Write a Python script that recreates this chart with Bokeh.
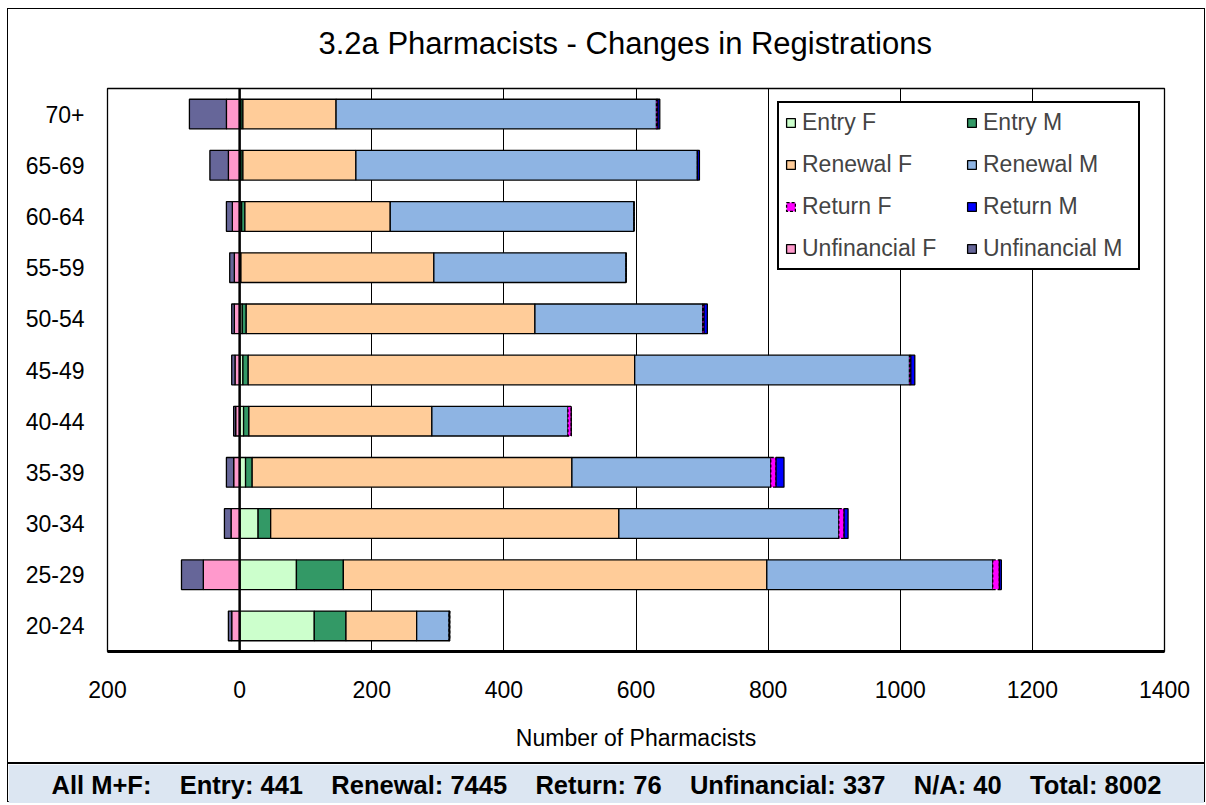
from bokeh.plotting import figure
from bokeh.models import (ColumnDataSource, FactorRange, FixedTicker, CustomJSTickFormatter,
                          Span, Legend, LegendItem, Title)
from bokeh.layouts import column
from bokeh.embed import file_html
from bokeh.resources import INLINE

# ---------------- data ----------------
age_groups = ["70+", "65-69", "60-64", "55-59", "50-54", "45-49",
              "40-44", "35-39", "30-34", "25-29", "20-24"]
entry_f = [2, 2, 3, 1, 4, 5, 6, 9, 28, 86, 113]
entry_m = [3, 3, 5, 1, 6, 8, 8, 10, 19, 71, 48]
renewal_f = [141, 171, 220, 292, 437, 585, 277, 484, 527, 641, 107]
renewal_m = [485, 517, 369, 291, 254, 416, 206, 301, 333, 342, 49]
return_f = [2, 0, 0, 0, 2, 2, 5, 8, 8, 10, 1]
return_m = [3, 3, 0, 0, 5, 6, 0, 12, 6, 3, 0]
unfin_f = [20, 17, 11, 8, 8, 7, 6, 9, 13, 55, 12]
unfin_m = [56, 28, 9, 7, 4, 5, 3, 11, 10, 33, 5]
x_ticks = [-200, 0, 200, 400, 600, 800, 1000, 1200, 1400]
title_text = "3.2a Pharmacists - Changes in Registrations"
x_label = "Number of Pharmacists"
summary_parts = ["All M+F:", "Entry: 441", "Renewal: 7445", "Return: 76",
                 "Unfinancial: 337", "N/A: 40", "Total: 8002"]

FONT = "Liberation Sans"

src = ColumnDataSource(dict(
    age=age_groups,
    entry_f=entry_f, entry_m=entry_m,
    renewal_f=renewal_f, renewal_m=renewal_m,
    return_f=return_f, return_m=return_m,
    unfin_f=[-v for v in unfin_f], unfin_m=[-v for v in unfin_m],
))

W = 1196
p = figure(width=W, height=753,
           y_range=FactorRange(factors=list(reversed(age_groups))),
           x_range=(-200, 1400),
           output_backend="svg", toolbar_location=None,
           min_border_left=99, min_border_right=40,
           min_border_top=79, min_border_bottom=111)
p.title.text = ""
p.title.standoff = 0

# spacer (closest to the frame) then the real title above it
p.add_layout(Title(text=" ", text_font_size="10px", standoff=15), "above")
p.add_layout(Title(text=title_text, align="left", offset=211, standoff=0,
                   text_font=FONT, text_font_size="31px", text_font_style="normal",
                   text_color="black"), "above")

pos_stack = ["entry_f", "entry_m", "renewal_f", "renewal_m", "return_f", "return_m"]
pos_colors = ["#CCFFCC", "#339966", "#FFCC99", "#8EB4E3", "#FF00FF", "#0000FF"]
pos_names = ["Entry F", "Entry M", "Renewal F", "Renewal M", "Return F", "Return M"]
pos_dash = ["solid", "solid", "solid", "solid", "3 2", "solid"]
pos_r = p.hbar_stack(pos_stack, y="age", height=0.58, source=src,
                     fill_color=pos_colors, line_color="black", line_width=1.3,
                     line_dash=pos_dash)

neg_stack = ["unfin_f", "unfin_m"]
neg_colors = ["#FF99CC", "#666699"]
neg_names = ["Unfinancial F", "Unfinancial M"]
neg_r = p.hbar_stack(neg_stack, y="age", height=0.58, source=src,
                     fill_color=neg_colors, line_color="black", line_width=1.3)

# grid / axes
p.xgrid.ticker = FixedTicker(ticks=x_ticks)
p.xgrid.grid_line_color = "black"
p.xgrid.grid_line_width = 1
p.ygrid.grid_line_color = None
p.outline_line_color = "black"
p.outline_line_width = 1.3

p.xaxis.ticker = FixedTicker(ticks=x_ticks)
p.xaxis.formatter = CustomJSTickFormatter(code="return Math.abs(tick).toString();")
p.xaxis.axis_line_width = 3
p.xaxis.axis_line_color = "black"
p.xaxis.major_tick_line_color = None
p.xaxis.minor_tick_line_color = None
p.xaxis.major_label_text_font = FONT
p.xaxis.major_label_text_font_size = "23px"
p.xaxis.major_label_text_color = "black"
p.xaxis.major_label_standoff = 23
p.xaxis.axis_label = x_label
p.xaxis.axis_label_text_font = FONT
p.xaxis.axis_label_text_font_size = "23px"
p.xaxis.axis_label_text_font_style = "normal"
p.xaxis.axis_label_text_color = "black"
p.xaxis.axis_label_standoff = 24

p.yaxis.axis_line_color = None
p.yaxis.major_tick_line_color = None
p.yaxis.minor_tick_line_color = None
p.yaxis.major_label_text_font = FONT
p.yaxis.major_label_text_font_size = "23px"
p.yaxis.major_label_text_color = "black"
p.yaxis.major_label_standoff = 17

p.add_layout(Span(location=0, dimension="height", line_color="black", line_width=2.5))

# legend (column-major fill: left column first)
r_by_name = dict(zip(pos_names + neg_names, pos_r + neg_r))
order = ["Entry F", "Renewal F", "Return F", "Unfinancial F",
         "Entry M", "Renewal M", "Return M", "Unfinancial M"]
legend = Legend(items=[LegendItem(label=n, renderers=[r_by_name[n]]) for n in order],
                location=(670, 381), ncols=2,
                border_line_color="black", border_line_width=2, border_line_alpha=1,
                background_fill_color="white", background_fill_alpha=1,
                label_text_font=FONT, label_text_font_size="23px",
                glyph_width=11, glyph_height=11, label_standoff=6,
                spacing=15, padding=6, margin=0, label_height=26, label_width=149)
p.add_layout(legend)

# footer: summary line drawn as the footer figure's title
gap = "\u00a0\u00a0\u00a0 "
f = figure(width=W, height=39, x_range=(0, 1), y_range=(0, 1),
           output_backend="svg", toolbar_location=None,
           x_axis_location=None, y_axis_location=None,
           min_border_left=99, min_border_right=40, min_border_top=0, min_border_bottom=0,
           background_fill_color="#DCE6F2", border_fill_color="#DCE6F2",
           outline_line_color=None,
           styles={"border-top": "2px solid black"})
f.grid.visible = False
f.title.text = gap.join(summary_parts)
f.title.align = "left"
f.title.offset = -56
f.title.standoff = 9
f.title.text_font = FONT
f.title.text_font_size = "25.5px"
f.title.text_font_style = "bold"
f.title.text_color = "black"

layout = column(p, f, spacing=0, margin=(8, 0, 0, 7),
                styles={"border": "1px solid black"})

open("out.html", "w").write(file_html(layout, INLINE))
